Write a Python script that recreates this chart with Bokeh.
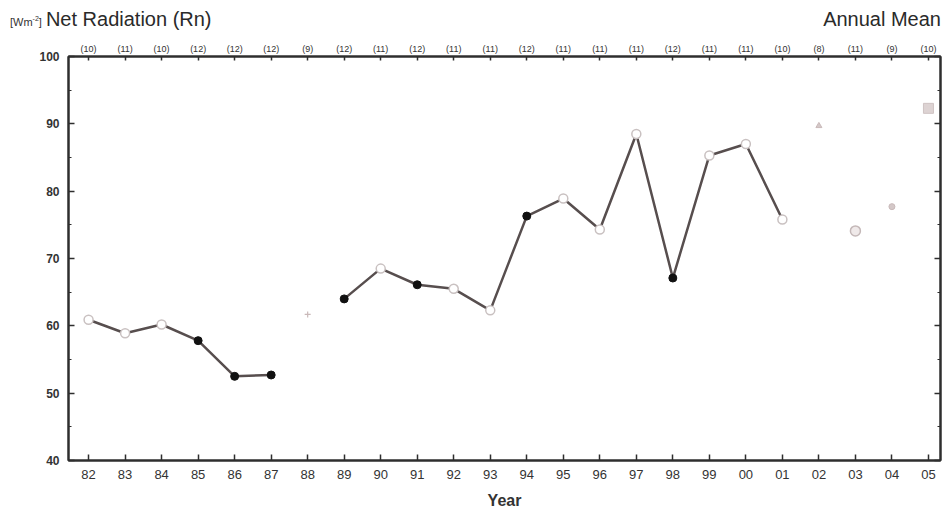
from bokeh.plotting import figure
from bokeh.models import Range1d, LinearAxis, FixedTicker, SingleIntervalTicker, Div
from bokeh.layouts import column
from bokeh.embed import file_html
from bokeh.resources import INLINE

# ---- data ----
year_labels = ["82", "83", "84", "85", "86", "87", "88", "89", "90", "91", "92", "93",
               "94", "95", "96", "97", "98", "99", "00", "01", "02", "03", "04", "05"]
rn_values = [60.9, 58.9, 60.2, 57.8, 52.5, 52.7, 61.7, 64.0, 68.5, 66.1, 65.5, 62.3,
             76.3, 78.9, 74.3, 88.5, 67.1, 85.3, 87.0, 75.8, 89.7, 74.1, 77.7, 92.3]
month_counts = [10, 11, 10, 12, 12, 12, 9, 12, 11, 12, 11, 11,
                12, 11, 11, 11, 12, 11, 11, 10, 8, 11, 9, 10]
isolated_years = ["88", "02", "03", "04", "05"]
y_ticks = [40, 50, 60, 70, 80, 90, 100]

FONT = "Liberation Sans"
LINE_COL = "#574e4e"
FRAME_COL = "#2e2e2e"

xs = list(range(len(year_labels)))
line_y = [float("nan") if lab in isolated_years else v for lab, v in zip(year_labels, rn_values)]

title_div = Div(
    text=('<div style="display:flex;justify-content:space-between;align-items:baseline;'
          'width:936px;padding-left:5px;font-family:\'Liberation Sans\',Arial,sans-serif;color:#2a2a2a;">'
          '<span><span style="font-size:11px;color:#333">[Wm<sup style="font-size:7px">-2</sup>]</span>'
          '<span style="font-size:20px;margin-left:4px">Net Radiation (Rn)</span></span>'
          '<span style="font-size:20px">Annual Mean</span></div>'),
    width=944, height=30)

p = figure(width=944, height=473, output_backend="svg", toolbar_location=None,
           x_range=Range1d(-0.55, 23.33), y_range=Range1d(40, 100),
           x_axis_location=None, y_axis_location=None,
           min_border_left=68, min_border_right=4, min_border_top=13, min_border_bottom=53)
p.grid.visible = False
p.outline_line_color = FRAME_COL
p.outline_line_width = 2
p.background_fill_color = "white"
p.border_fill_color = "white"

x_ticker = FixedTicker(ticks=xs)
y_ticker = SingleIntervalTicker(interval=10, num_minor_ticks=2)


def style_axis(ax):
    ax.axis_line_color = FRAME_COL
    ax.axis_line_width = 2
    ax.major_tick_in = 6
    ax.major_tick_out = 0
    ax.minor_tick_in = 3
    ax.minor_tick_out = 0
    ax.major_tick_line_color = FRAME_COL
    ax.minor_tick_line_color = FRAME_COL
    ax.major_tick_line_width = 1.5
    ax.major_label_text_font = FONT
    ax.major_label_text_color = "#333333"


bottom = LinearAxis(ticker=x_ticker, major_label_overrides={i: s for i, s in enumerate(year_labels)})
style_axis(bottom)
bottom.major_label_text_font_size = "13px"
bottom.major_label_standoff = 9
bottom.axis_label = "Year"
bottom.axis_label_text_font = FONT
bottom.axis_label_text_font_size = "16px"
bottom.axis_label_text_font_style = "bold"
bottom.axis_label_text_color = "#333333"
bottom.axis_label_standoff = 10
p.add_layout(bottom, "below")

top = LinearAxis(ticker=x_ticker,
                 major_label_overrides={i: "(%d)" % c for i, c in enumerate(month_counts)})
style_axis(top)
top.major_tick_in = 4
top.major_label_text_font_size = "9px"
top.major_label_standoff = 3
p.add_layout(top, "above")

left = LinearAxis(ticker=y_ticker)
style_axis(left)
left.major_label_text_font_size = "12px"
left.major_label_text_font_style = "bold"
left.major_label_standoff = 9
p.add_layout(left, "left")

right = LinearAxis(ticker=y_ticker, major_label_overrides={v: "" for v in y_ticks})
style_axis(right)
right.major_label_standoff = 0
p.add_layout(right, "right")

# connecting line
p.line(xs, line_y, line_color=LINE_COL, line_width=2.5)

# markers
full_idx = [i for i in xs if year_labels[i] not in isolated_years and month_counts[i] == 12]
part_idx = [i for i in xs if year_labels[i] not in isolated_years and month_counts[i] != 12]
p.scatter([xs[i] for i in part_idx], [rn_values[i] for i in part_idx], marker="circle",
          size=9, fill_color="white", line_color="#c9c1c1", line_width=1.5)
p.scatter([xs[i] for i in full_idx], [rn_values[i] for i in full_idx], marker="circle",
          size=8, fill_color="#111111", line_color="#111111")

iso_style = {
    "88": dict(marker="cross", size=6, fill_color="#c9b9b9", line_color="#c9b9b9", line_width=1.2),
    "02": dict(marker="triangle", size=6, fill_color="#d4c8c8", line_color="#c9b9b9", line_width=1),
    "03": dict(marker="circle", size=10, fill_color="#efe9e9", line_color="#c4b8b8", line_width=1.5),
    "04": dict(marker="circle", size=6, fill_color="#d4c8c8", line_color="#c9b9b9", line_width=1),
    "05": dict(marker="square", size=10, fill_color="#ddd3d3", line_color="#cfc3c3", line_width=1),
}
for lab in isolated_years:
    i = year_labels.index(lab)
    p.scatter([xs[i]], [rn_values[i]], **iso_style[lab])

layout = column(title_div, p, spacing=0)
open("out.html", "w").write(file_html(layout, INLINE))
